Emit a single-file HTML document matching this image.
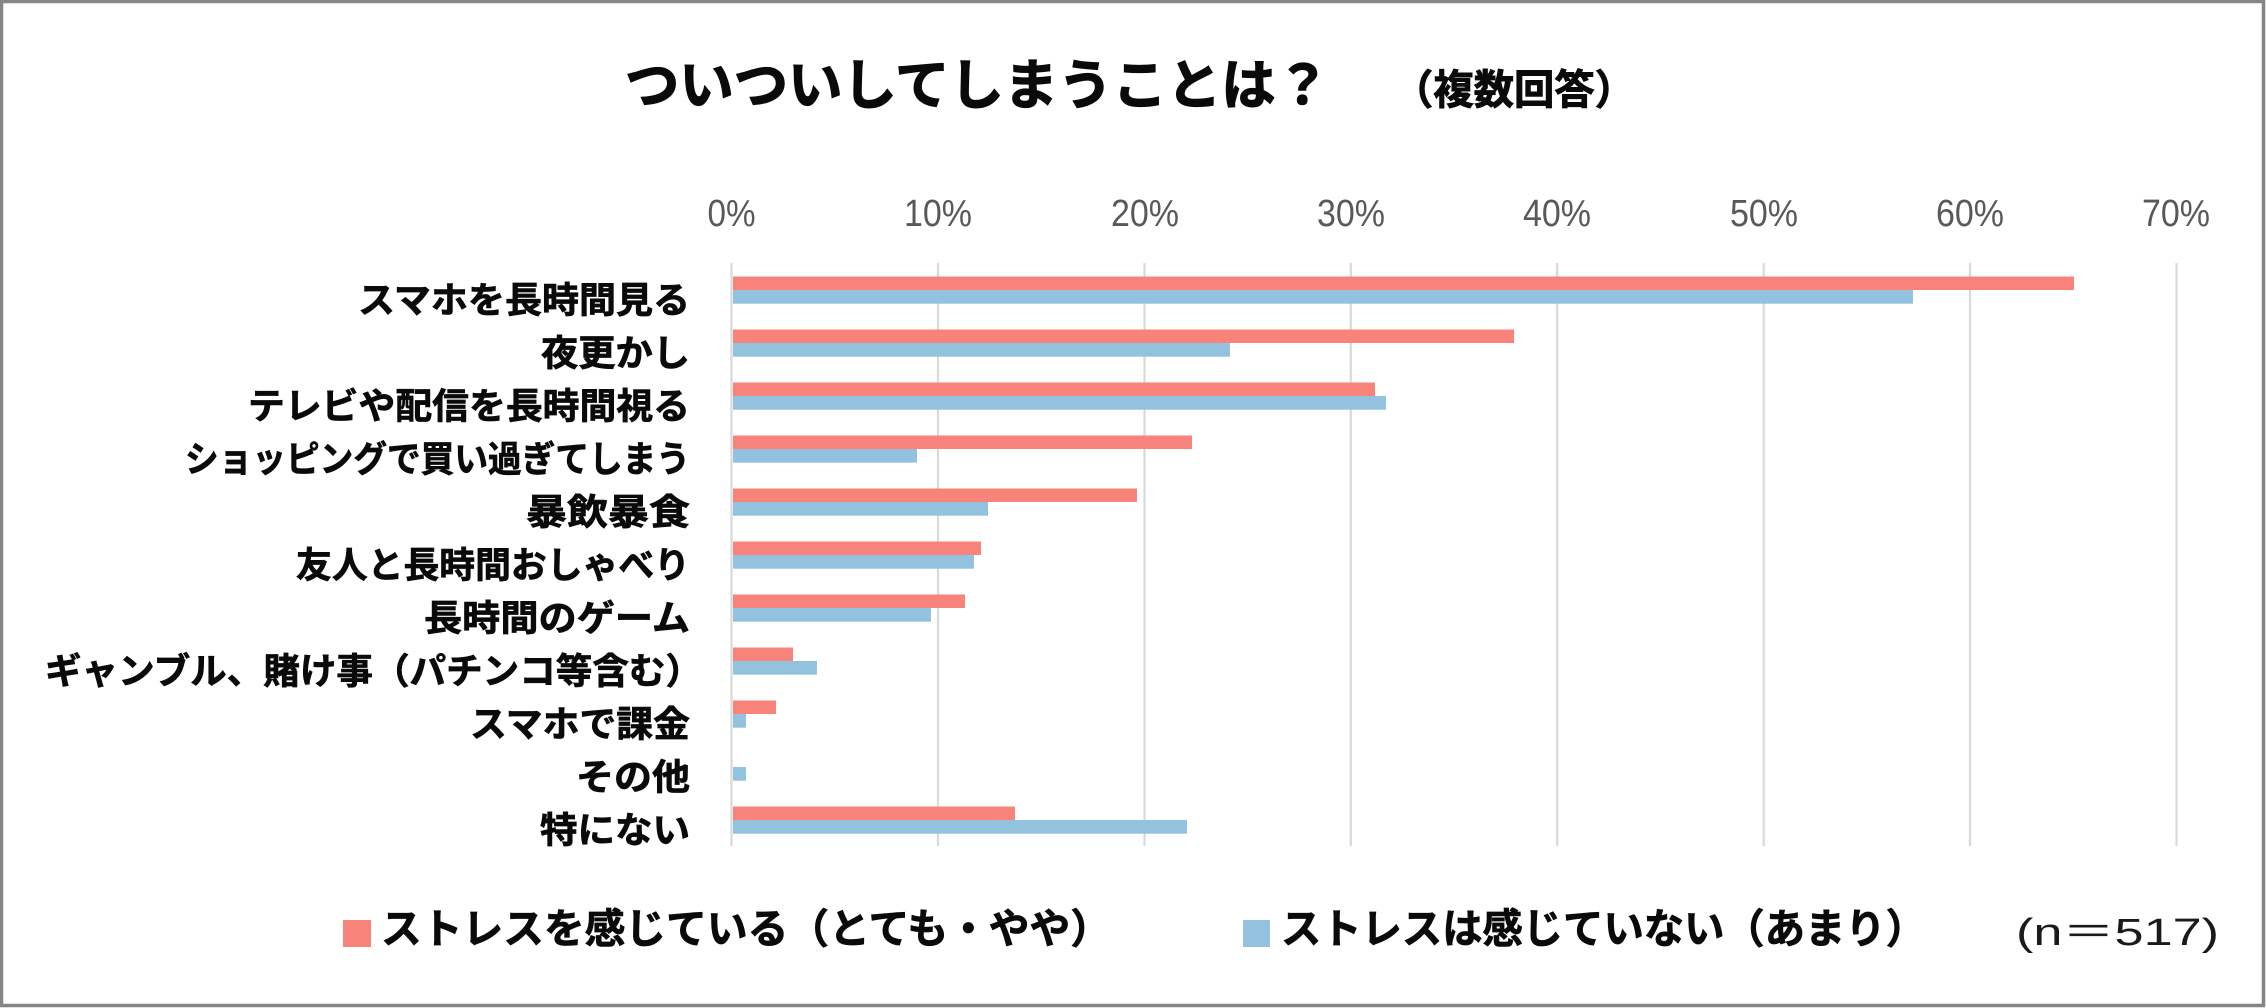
<!DOCTYPE html>
<html lang="ja">
<head>
<meta charset="utf-8">
<style>
  html, body { margin:0; padding:0; background:#fff; }
  body { width:2266px; height:1008px; overflow:hidden; }
  svg { display:block; }
  .jp { font-family: "Liberation Sans", "Noto Sans CJK JP", sans-serif; font-weight:700; fill:#0a0a0a; stroke:#0a0a0a; stroke-width:0.7px; }
  .tick { font-family: "Liberation Sans", sans-serif; font-size:38px; fill:#595959; }
  .n { font-family: "Liberation Sans", "Noto Sans CJK JP", sans-serif; font-size:38px; fill:#1a1a1a; }
</style>
</head>
<body>
<svg width="2266" height="1008" viewBox="0 0 2266 1008" xmlns="http://www.w3.org/2000/svg">
  <rect x="0" y="0" width="2266" height="1008" fill="#ffffff"/>
  <rect x="1.5" y="1.5" width="2262" height="1004" fill="none" stroke="#858585" stroke-width="3.5"/>

  <!-- Title -->
  <text class="jp" x="625" y="104" font-size="54" style="stroke-width:1.2px" textLength="705" lengthAdjust="spacingAndGlyphs">ついついしてしまうことは？</text>
  <text class="jp" x="1393" y="104" font-size="41" style="stroke-width:0.9px" textLength="242" lengthAdjust="spacingAndGlyphs">（複数回答）</text>

  <!-- Tick labels -->
  <text class="tick" x="707.5" y="226" textLength="48" lengthAdjust="spacingAndGlyphs">0%</text>
  <text class="tick" x="904" y="226" textLength="68" lengthAdjust="spacingAndGlyphs">10%</text>
  <text class="tick" x="1111" y="226" textLength="68" lengthAdjust="spacingAndGlyphs">20%</text>
  <text class="tick" x="1317" y="226" textLength="68" lengthAdjust="spacingAndGlyphs">30%</text>
  <text class="tick" x="1523" y="226" textLength="68" lengthAdjust="spacingAndGlyphs">40%</text>
  <text class="tick" x="1730" y="226" textLength="68" lengthAdjust="spacingAndGlyphs">50%</text>
  <text class="tick" x="1936" y="226" textLength="68" lengthAdjust="spacingAndGlyphs">60%</text>
  <text class="tick" x="2142" y="226" textLength="68" lengthAdjust="spacingAndGlyphs">70%</text>

  <!-- Gridlines -->
  <g stroke="#d9d9d9" stroke-width="2.2">
    <line x1="731.5" y1="263" x2="731.5" y2="846"/>
    <line x1="938" y1="263" x2="938" y2="846"/>
    <line x1="1144.5" y1="263" x2="1144.5" y2="846"/>
    <line x1="1350.8" y1="263" x2="1350.8" y2="846"/>
    <line x1="1557.2" y1="263" x2="1557.2" y2="846"/>
    <line x1="1763.7" y1="263" x2="1763.7" y2="846"/>
    <line x1="1970" y1="263" x2="1970" y2="846"/>
    <line x1="2176.5" y1="263" x2="2176.5" y2="846"/>
  </g>

  <!-- Bars -->
  <g fill="#F7837B">
    <rect x="733" y="276.5" width="1341" height="13.5"/>
    <rect x="733" y="329.5" width="781" height="13.5"/>
    <rect x="733" y="382.5" width="642" height="13.5"/>
    <rect x="733" y="435.5" width="459" height="13.5"/>
    <rect x="733" y="488.5" width="404" height="13.5"/>
    <rect x="733" y="541.5" width="248" height="13.5"/>
    <rect x="733" y="594.5" width="232" height="13.5"/>
    <rect x="733" y="647.5" width="60" height="13.5"/>
    <rect x="733" y="700.5" width="43" height="13.5"/>
    <rect x="733" y="806.5" width="282" height="13.5"/>
  </g>
  <g fill="#93C2DF">
    <rect x="733" y="290" width="1180" height="13.7"/>
    <rect x="733" y="343" width="497" height="13.7"/>
    <rect x="733" y="396" width="653" height="13.7"/>
    <rect x="733" y="449" width="184" height="13.7"/>
    <rect x="733" y="502" width="255" height="13.7"/>
    <rect x="733" y="555" width="241" height="13.7"/>
    <rect x="733" y="608" width="198" height="13.7"/>
    <rect x="733" y="661" width="84" height="13.7"/>
    <rect x="733" y="714" width="13" height="13.7"/>
    <rect x="733" y="767" width="13" height="13.7"/>
    <rect x="733" y="820" width="454" height="13.7"/>
  </g>

  <!-- Category labels -->
  <g class="jp" font-size="36">
    <text x="358" y="312.5" textLength="332" lengthAdjust="spacingAndGlyphs">スマホを長時間見る</text>
    <text x="541" y="365.5" textLength="149" lengthAdjust="spacingAndGlyphs">夜更かし</text>
    <text x="248" y="418.5" textLength="442" lengthAdjust="spacingAndGlyphs">テレビや配信を長時間視る</text>
    <text x="185" y="471.5" textLength="505" lengthAdjust="spacingAndGlyphs">ショッピングで買い過ぎてしまう</text>
    <text x="526" y="524.5" textLength="164" lengthAdjust="spacingAndGlyphs">暴飲暴食</text>
    <text x="296" y="577.5" textLength="394" lengthAdjust="spacingAndGlyphs">友人と長時間おしゃべり</text>
    <text x="424" y="630.5" textLength="266" lengthAdjust="spacingAndGlyphs">長時間のゲーム</text>
    <text x="45" y="683.5" textLength="657" lengthAdjust="spacingAndGlyphs">ギャンブル、賭け事（パチンコ等含む）</text>
    <text x="470" y="736.5" textLength="220" lengthAdjust="spacingAndGlyphs">スマホで課金</text>
    <text x="576" y="789.5" textLength="114" lengthAdjust="spacingAndGlyphs">その他</text>
    <text x="540" y="842.5" textLength="150" lengthAdjust="spacingAndGlyphs">特にない</text>
  </g>

  <!-- Legend -->
  <rect x="343" y="920" width="28" height="27" fill="#F7837B"/>
  <text class="jp" x="381" y="943" font-size="41" textLength="730" lengthAdjust="spacingAndGlyphs">ストレスを感じている（とても・やや）</text>
  <rect x="1243" y="920" width="27" height="27" fill="#93C2DF"/>
  <text class="jp" x="1281" y="943" font-size="41" textLength="645" lengthAdjust="spacingAndGlyphs">ストレスは感じていない（あまり）</text>

  <text class="n" x="2016" y="945" textLength="203" lengthAdjust="spacingAndGlyphs">(n＝517)</text>
</svg>
</body>
</html>
